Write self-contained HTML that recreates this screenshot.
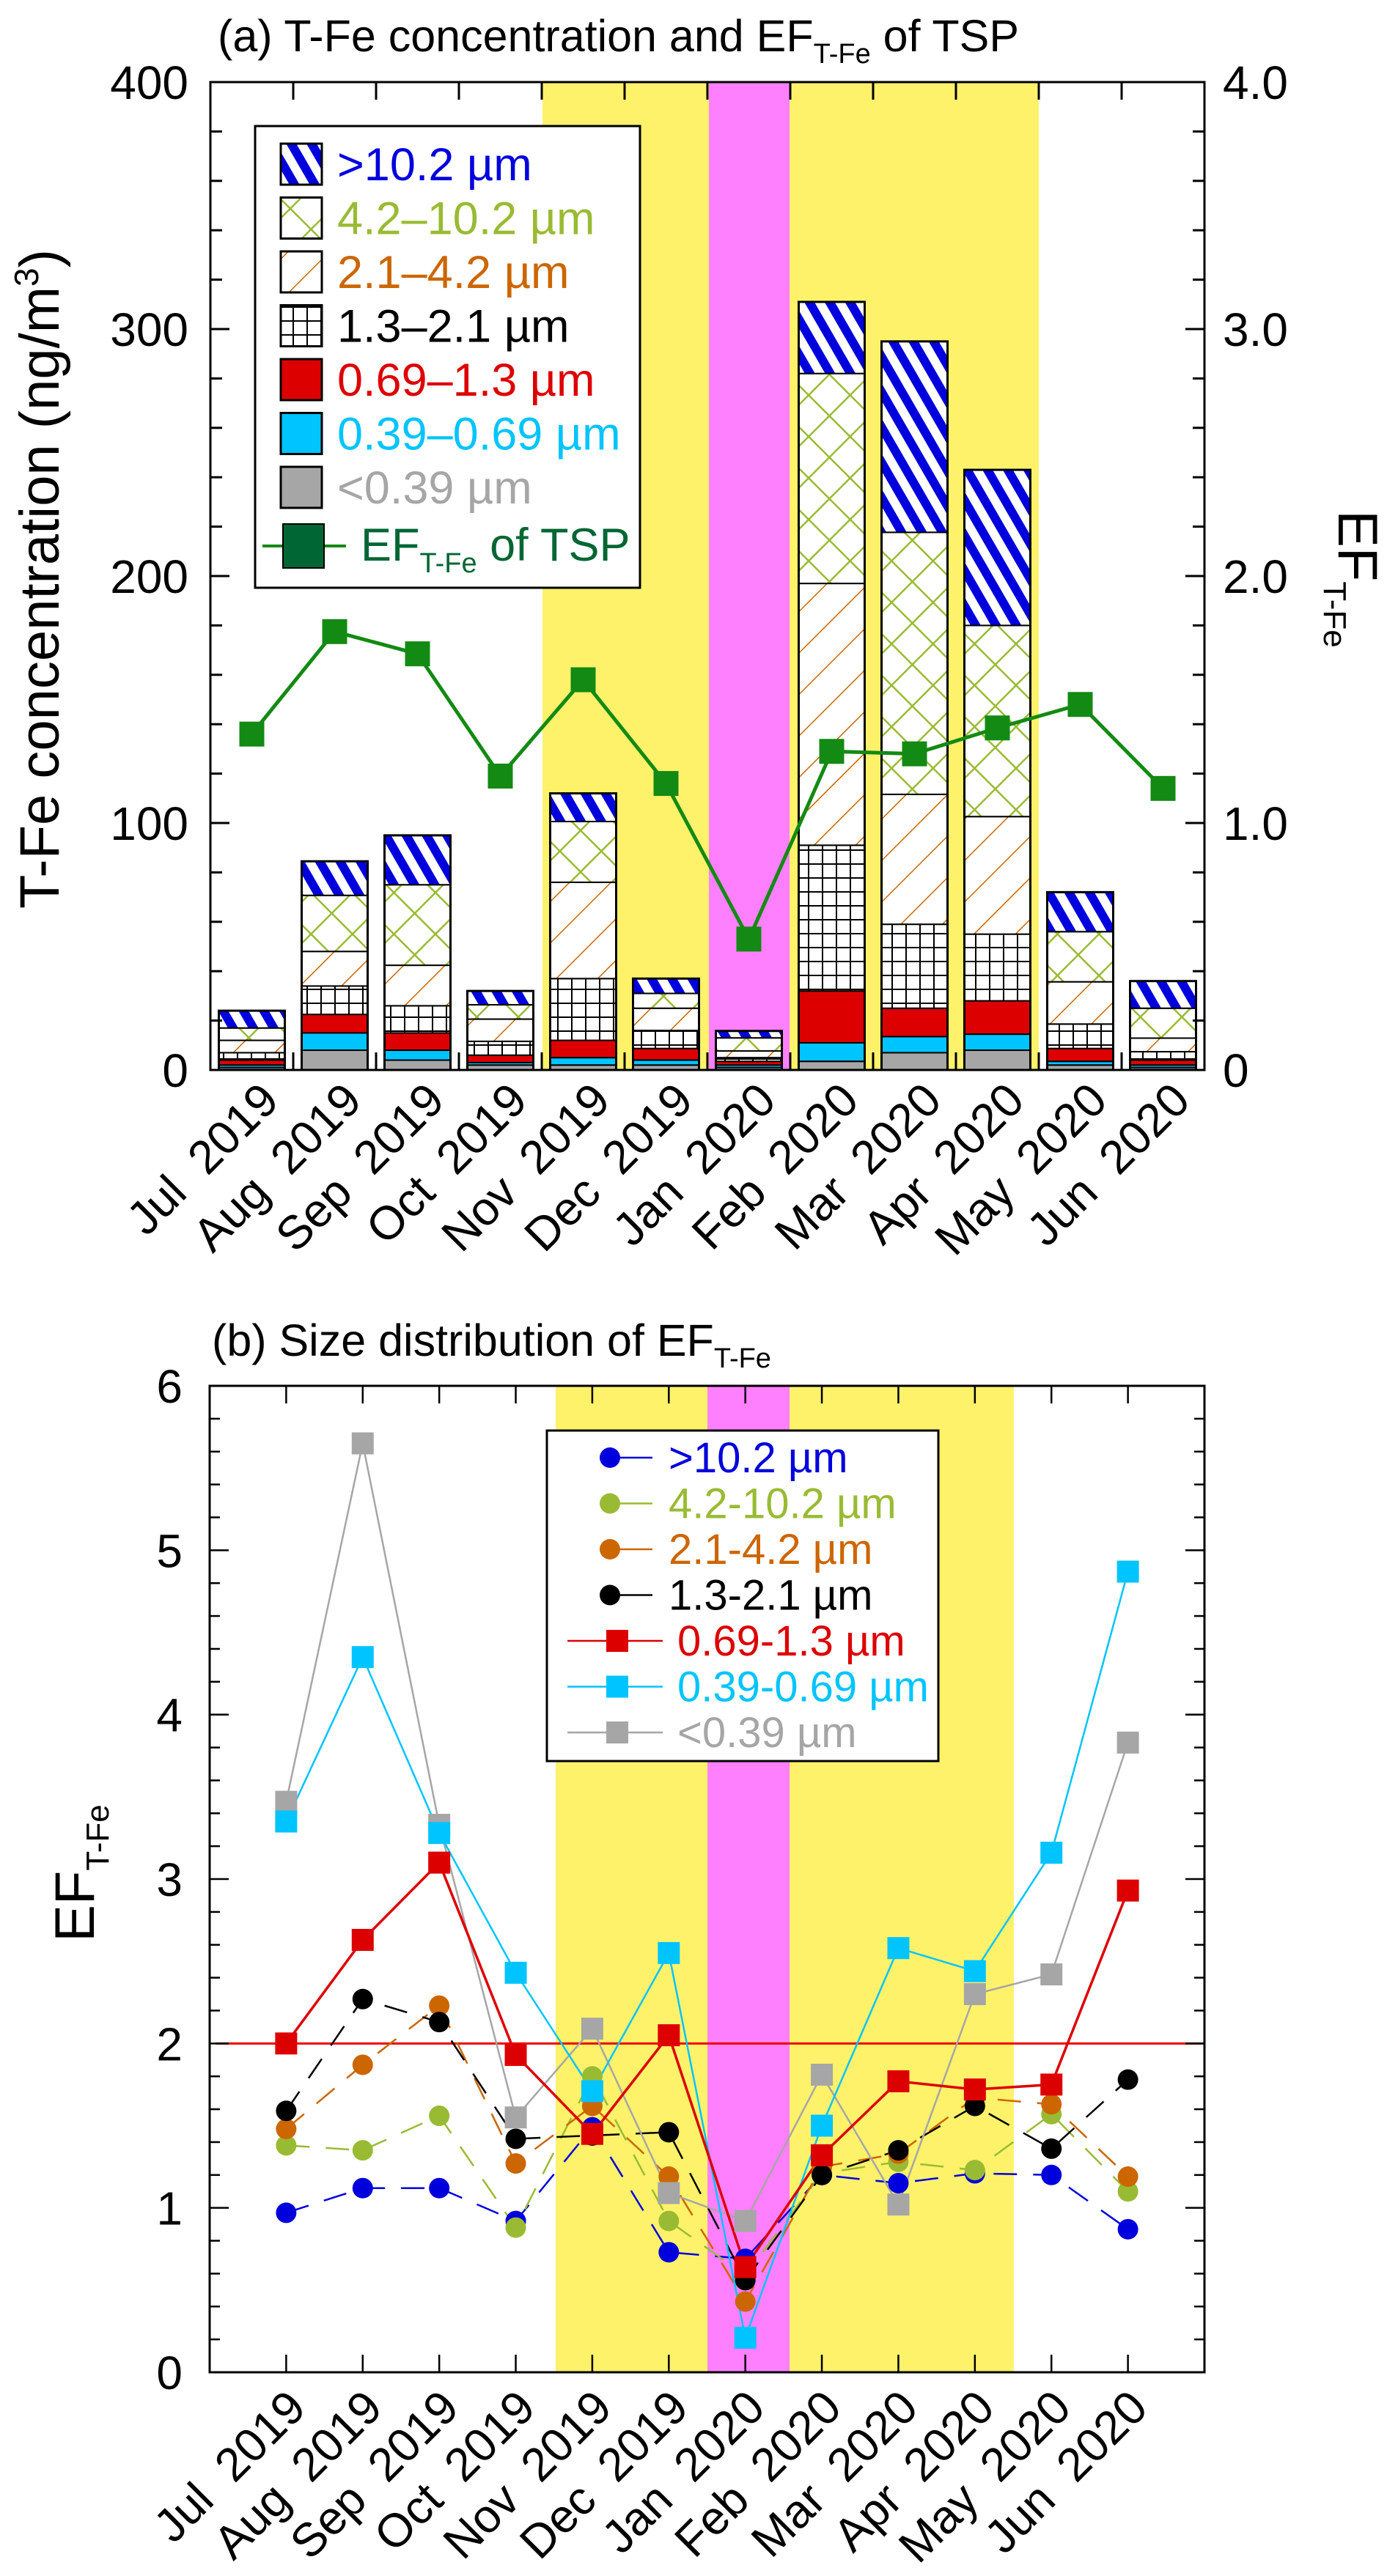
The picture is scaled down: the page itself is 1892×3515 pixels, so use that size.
<!DOCTYPE html>
<html><head><meta charset="utf-8"><style>
html,body{margin:0;padding:0;background:#fff}
svg{display:block;font-family:"Liberation Sans",Arial,sans-serif}
</style></head><body>
<svg id="c" width="1892" height="3515" viewBox="0 0 1892 3515" xmlns="http://www.w3.org/2000/svg">
<defs>
<pattern id="pBlue" patternUnits="userSpaceOnUse" width="24" height="24" patternTransform="rotate(-30)"><rect width="24" height="24" fill="#fff"/><rect width="12" height="24" fill="#0000dd"/></pattern>
<pattern id="pGreen" patternUnits="userSpaceOnUse" width="40" height="40" patternTransform="rotate(45)"><rect width="40" height="40" fill="#fff"/><line x1="0" y1="0" x2="40" y2="0" stroke="#99bb33" stroke-width="5"/><line x1="0" y1="0" x2="0" y2="40" stroke="#99bb33" stroke-width="5"/></pattern>
<pattern id="pOrange" patternUnits="userSpaceOnUse" width="40" height="40" patternTransform="rotate(-45)"><rect width="40" height="40" fill="#fff"/><line x1="0" y1="0" x2="40" y2="0" stroke="#cc6600" stroke-width="3"/></pattern>
<pattern id="pGrid" patternUnits="userSpaceOnUse" width="19" height="19"><rect width="19" height="19" fill="#fff"/><line x1="0" y1="0" x2="19" y2="0" stroke="#000" stroke-width="4"/><line x1="0" y1="0" x2="0" y2="19" stroke="#000" stroke-width="4"/></pattern>
</defs>
<g id="chartA"></g>
<g id="chartB"></g>
</svg>
<script>
const monthsA = ["Jul\u00a0\u00a02019","Aug\u00a0\u00a02019","Sep\u00a0\u00a02019","Oct\u00a0\u00a02019","Nov\u00a0\u00a02019","Dec\u00a0\u00a02019","Jan\u00a0\u00a02020","Feb\u00a0\u00a02020","Mar\u00a0\u00a02020","Apr\u00a0\u00a02020","May\u00a0\u00a02020","Jun\u00a0\u00a02020"];
const f039 = [1,8,4,2,2,2,1,3.5,7,8,2,1];
const f069 = [1,7,4,1,3,2,1,7.5,6.5,6.5,1.5,1];
const f13  = [2,7.5,7,3,7,4.7,1.5,21,11.5,13.5,5.2,2];
const f21  = [3,11.5,11,5.6,25,7.3,1.5,59,34,27,9.9,3.4];
const f42  = [5,14,16.4,9,39,9,2.7,106,52.6,47.6,17.1,5.5];
const f102 = [5,22.7,32.6,5.8,24.6,6,5.3,85,106.1,77.4,20.3,12.1];
const fgt  = [7,13.8,20,5.6,11.4,6,2.8,29,77.3,63,16,11];
const efTSP = [1.36,1.775,1.685,1.19,1.58,1.16,0.53,1.29,1.28,1.385,1.48,1.14];
const ticksA = [0,100,200,300,400];
const ticksR = ["0","1.0","2.0","3.0","4.0"];

const bGt = [0.97,1.12,1.12,0.92,1.49,0.73,0.69,1.2,1.15,1.21,1.2,0.87];
const b102 = [1.38,1.35,1.56,0.88,1.8,0.92,0.59,1.21,1.28,1.23,1.57,1.1];
const b42 = [1.48,1.87,2.23,1.27,1.62,1.19,0.43,1.25,1.33,1.67,1.63,1.19];
const b21 = [1.59,2.27,2.13,1.42,1.44,1.46,0.56,1.2,1.35,1.62,1.36,1.78];
const b13 = [2.0,2.63,3.1,1.93,1.45,2.05,0.64,1.32,1.77,1.72,1.75,2.93];
const b069 = [3.35,4.35,3.28,2.43,1.71,2.55,0.21,1.5,2.58,2.44,3.16,4.87];
const b039 = [3.47,5.65,3.33,1.55,2.09,1.09,0.92,1.81,1.02,2.3,2.42,3.83];
const ticksB = [0,1,2,3,4,5,6];

const NS="http://www.w3.org/2000/svg";
function mk(parent,tag,attrs,text){const e=document.createElementNS(NS,tag);for(const k in attrs)e.setAttribute(k,attrs[k]);if(text!==undefined)e.textContent=text;parent.appendChild(e);return e;}

// ---------- Chart A ----------
const A=document.getElementById('chartA');
const aL=287,aR=1643,aT=112,aB=1460;
const slot=(aR-aL)/12;
const xA=i=>aL+slot*(i+0.5);
const yA=v=>aB-v*(aB-aT)/400;
const yR=v=>aB-v*(aB-aT)/4;
let r;
r=mk(A,'rect',{x:740,y:aT,width:227,height:aB-aT,fill:'#fff26b'});


r=mk(A,'rect',{x:967,y:aT,width:110,height:aB-aT,fill:'#ff80ff'});


r=mk(A,'rect',{x:1077,y:aT,width:340,height:aB-aT,fill:'#fff26b'});



const fracs=[[f039,'#a6a6a6','lt039'],[f069,'#00c4ff','f039-069'],[f13,'#dd0000','f069-13'],[f21,'url(#pGrid)','f13-21'],[f42,'url(#pOrange)','f21-42'],[f102,'url(#pGreen)','f42-102'],[fgt,'url(#pBlue)','gt102']];
const bw=90;
for(let i=0;i<12;i++){
  let cum=0;
  for(const [arr,fill,nm] of fracs){
    const y0=yA(cum),y1=yA(cum+arr[i]);
    const s=mk(A,'rect',{x:xA(i)-bw/2,y:y1,width:bw,height:y0-y1,fill:fill,stroke:'#000','stroke-width':2});
    
    
    cum+=arr[i];
  }
  const o=mk(A,'rect',{x:xA(i)-bw/2,y:yA(cum),width:bw,height:aB-yA(cum),fill:'none',stroke:'#000','stroke-width':3});
  
  
}
let pts=efTSP.map((v,i)=>xA(i)+','+yR(v)).join(' ');
r=mk(A,'polyline',{points:pts,fill:'none',stroke:'#138a13','stroke-width':5});


efTSP.forEach((v,i)=>{const m=mk(A,'rect',{x:xA(i)-17,y:yR(v)-17,width:34,height:34,fill:'#138a13'});

});
r=mk(A,'rect',{x:aL,y:aT,width:aR-aL,height:aB-aT,fill:'none',stroke:'#000','stroke-width':3});


for(let v=0;v<=400;v+=20){const len=v%100===0?26:16;
 mk(A,'line',{x1:aL,y1:yA(v),x2:aL+len,y2:yA(v),stroke:'#000','stroke-width':3});
 mk(A,'line',{x1:aR,y1:yA(v),x2:aR-len,y2:yA(v),stroke:'#000','stroke-width':3});}
for(let i=1;i<12;i++){const x=aL+slot*i;
 mk(A,'line',{x1:x,y1:aT,x2:x,y2:aT+24,stroke:'#000','stroke-width':3});
 mk(A,'line',{x1:x,y1:aB,x2:x,y2:aB-24,stroke:'#000','stroke-width':3});}
ticksA.forEach((t,k)=>{const e=mk(A,'text',{x:257,y:yA(t)+23,'font-size':64,'text-anchor':'end'},String(t));


const e2=mk(A,'text',{x:1668,y:yA(t)+23,'font-size':64},ticksR[k]);

});
monthsA.forEach((m,i)=>{const x=xA(i)+40,y=aB+45;
 const e=mk(A,'text',{x:x,y:y,'font-size':64,'text-anchor':'end',transform:`rotate(-45 ${x} ${y})`},m);
 
 });
r=mk(A,'text',{x:297,y:70,'font-size':61},'(a) T-Fe concentration and EF');


mk(r,'tspan',{'font-size':38,dy:16},'T-Fe');
mk(r,'tspan',{dy:-16},' of TSP');
r=mk(A,'text',{x:0,y:0,'font-size':76,'text-anchor':'middle',transform:'translate(80 790) rotate(-90)'},'T-Fe concentration (ng/m');


mk(r,'tspan',{'font-size':46,dy:-28},'3');
mk(r,'tspan',{dy:28},')');
r=mk(A,'text',{x:0,y:0,'font-size':76,'text-anchor':'middle',transform:'translate(1826 790) rotate(90)'},'EF');


mk(r,'tspan',{'font-size':44,dy:20},'T-Fe');
r=mk(A,'rect',{x:348,y:172,width:525,height:630,fill:'#fff',stroke:'#000','stroke-width':3});


const legA=[['url(#pBlue)','#0000dd','>10.2 µm'],['url(#pGreen)','#99bb33','4.2–10.2 µm'],['url(#pOrange)','#cc6600','2.1–4.2 µm'],['url(#pGrid)','#000','1.3–2.1 µm'],['#dd0000','#dd0000','0.69–1.3 µm'],['#00c4ff','#00c4ff','0.39–0.69 µm'],['#a6a6a6','#a6a6a6','<0.39 µm']];
legA.forEach((l,k)=>{const cy=224+k*73.5;
 const s=mk(A,'rect',{x:383,y:cy-28,width:56,height:56,fill:l[0],stroke:'#000','stroke-width':3});
 
 
 const t=mk(A,'text',{x:460,y:cy+22,'font-size':63,fill:l[1]},l[2]);
 
 });
{const cy=745;
 mk(A,'line',{x1:358,y1:cy,x2:472,y2:cy,stroke:'#138a13','stroke-width':4});
 r=mk(A,'rect',{x:386,y:cy-30,width:56,height:60,fill:'#006633',stroke:'#000','stroke-width':2});
 
 
 const t=mk(A,'text',{x:492,y:cy+20,'font-size':63,fill:'#006633'},'EF');
 
 
 mk(t,'tspan',{'font-size':38,dy:16},'T-Fe');
 mk(t,'tspan',{dy:-16},' of TSP');}

// ---------- Chart B ----------
const B=document.getElementById('chartB');
const bL=286,bR=1643,bT=1891,bBt=3237;
const step=(bR-bL)/13;
const xB=i=>bL+step*(i+1);
const yB=v=>bBt-v*(bBt-bT)/6;
r=mk(B,'rect',{x:758,y:bT,width:207,height:bBt-bT,fill:'#fff26b'});


r=mk(B,'rect',{x:965,y:bT,width:112,height:bBt-bT,fill:'#ff80ff'});


r=mk(B,'rect',{x:1077,y:bT,width:306,height:bBt-bT,fill:'#fff26b'});


r=mk(B,'line',{x1:bL+8,y1:yB(2),x2:bR,y2:yB(2),stroke:'#ee0000','stroke-width':3});


const seriesB=[[bGt,'#0000dd','c','gt102'],[b102,'#99bb33','c','f42-102'],[b42,'#cc6600','c','f21-42'],[b21,'#000','c','f13-21'],[b039,'#a6a6a6','s','lt039'],[b069,'#00c4ff','s','f039-069'],[b13,'#dd0000','s','f069-13']];
seriesB.forEach(([arr,col,sh,nm])=>{
 const p=arr.map((v,i)=>xB(i)+','+yB(v)).join(' ');
 const ln=mk(B,'polyline',{points:p,fill:'none',stroke:col,'stroke-width':sh==='s'?(col==='#dd0000'?3.5:2.5):2.5,'stroke-dasharray':sh==='c'?'32 22':'none'});
 
 
});
seriesB.forEach(([arr,col,sh,nm])=>{
 arr.forEach((v,i)=>{let m;
  if(sh==='c') m=mk(B,'circle',{cx:xB(i),cy:yB(v),r:14,fill:col});
  else m=mk(B,'rect',{x:xB(i)-15,y:yB(v)-15,width:30,height:30,fill:col});
  
  });
});
r=mk(B,'rect',{x:bL,y:bT,width:bR-bL,height:bBt-bT,fill:'none',stroke:'#000','stroke-width':3});


for(let k=0;k<=30;k++){const v=k*0.2,len=k%5===0?26:14;
 mk(B,'line',{x1:bL,y1:yB(v),x2:bL+len,y2:yB(v),stroke:'#000','stroke-width':2.5});
 mk(B,'line',{x1:bR,y1:yB(v),x2:bR-len,y2:yB(v),stroke:'#000','stroke-width':2.5});}
for(let i=0;i<12;i++){
 mk(B,'line',{x1:xB(i),y1:bT,x2:xB(i),y2:bT+24,stroke:'#000','stroke-width':2.5});
 mk(B,'line',{x1:xB(i),y1:bBt,x2:xB(i),y2:bBt-24,stroke:'#000','stroke-width':2.5});}
ticksB.forEach(t=>{const e=mk(B,'text',{x:249,y:yB(t)+23,'font-size':64,'text-anchor':'end'},String(t));
 
 });
monthsA.forEach((m,i)=>{const x=xB(i)+30,y=bBt+52;
 const e=mk(B,'text',{x:x,y:y,'font-size':64,'text-anchor':'end',transform:`rotate(-45 ${x} ${y})`},m);
 
 });
r=mk(B,'text',{x:289,y:1850,'font-size':61},'(b) Size distribution of EF');


mk(r,'tspan',{'font-size':38,dy:16},'T-Fe');
r=mk(B,'text',{x:0,y:0,'font-size':76,'text-anchor':'middle',transform:'translate(128 2556) rotate(-90)'},'EF');


mk(r,'tspan',{'font-size':44,dy:20},'T-Fe');
r=mk(B,'rect',{x:746,y:1952,width:534,height:451,fill:'#fff',stroke:'#000','stroke-width':3});


const legB=[['#0000dd','c','>10.2 µm'],['#99bb33','c','4.2-10.2 µm'],['#cc6600','c','2.1-4.2 µm'],['#000','c','1.3-2.1 µm'],['#dd0000','s','0.69-1.3 µm'],['#00c4ff','s','0.39-0.69 µm'],['#a6a6a6','s','<0.39 µm']];
legB.forEach((l,k)=>{const cy=1989+k*62.5;
 if(l[1]==='c'){mk(B,'line',{x1:832,y1:cy,x2:890,y2:cy,stroke:l[0],'stroke-width':2.5});
  const m=mk(B,'circle',{cx:832,cy:cy,r:14,fill:l[0]});
  
  }
 else{mk(B,'line',{x1:774,y1:cy,x2:904,y2:cy,stroke:l[0],'stroke-width':2.5});
  const m=mk(B,'rect',{x:827,y:cy-15,width:30,height:30,fill:l[0]});
  
  }
 const t=mk(B,'text',{x:l[1]==='c'?912:924,y:cy+20,'font-size':58,fill:l[0]},l[2]);
 
 });
</script>
</body></html>
